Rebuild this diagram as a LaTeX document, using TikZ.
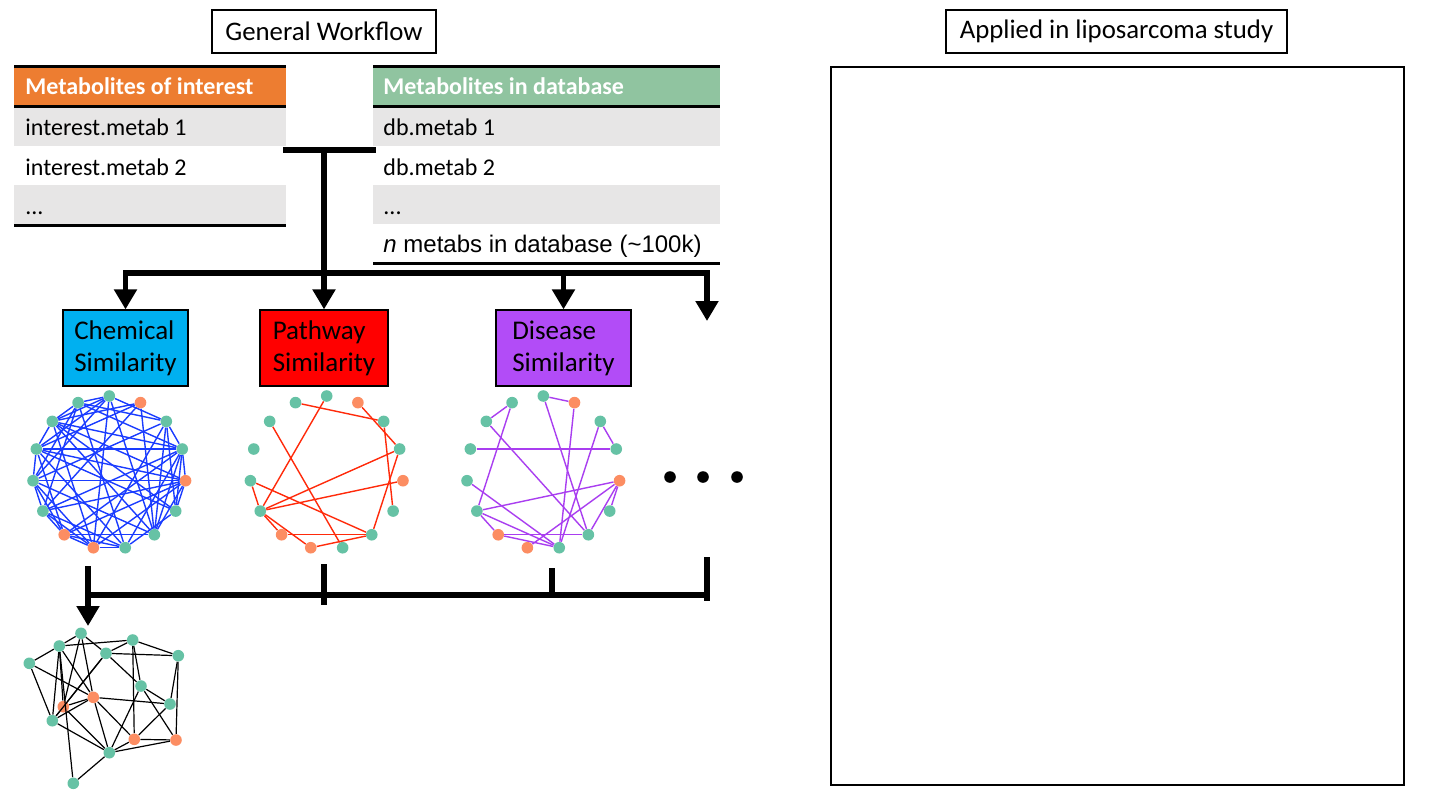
\documentclass[tikz,border=0pt]{standalone}
\usepackage{fontspec}
\setmainfont{Carlito}
\newfontfamily\arialf{Liberation Sans}
\usetikzlibrary{arrows.meta,calc}
\definecolor{hdrorange}{HTML}{ED7D31}
\definecolor{hdrgreen}{HTML}{90C4A0}
\definecolor{rowgray}{HTML}{E7E6E6}
\definecolor{chemcyan}{HTML}{00B0F0}
\definecolor{pathred}{HTML}{FF0000}
\definecolor{dispurple}{HTML}{B24CF7}
\definecolor{netg}{HTML}{66C2A5}
\definecolor{neto}{HTML}{FC8D62}
\definecolor{edgeblue}{HTML}{1A3CFF}
\definecolor{edgered}{HTML}{FF2A0A}
\definecolor{edgepurple}{HTML}{A93EF0}
\tikzset{
  titlebox/.style={draw, line width=0.6pt, inner sep=0pt, minimum height=21.5pt, font=\fontsize{13.4}{16}\selectfont},
  simbox/.style={draw, line width=0.6pt, inner sep=0pt, minimum height=38pt, align=left, font=\fontsize{13.5}{16}\selectfont},
  celltext/.style={anchor=base west, inner sep=0pt},
  tablerule/.style={line width=1.5pt},
  bar/.style={line width=2.8pt, line cap=rect},
  flow/.style={line width=2.8pt, -{Triangle[width=11pt,length=10pt]}},
  netnode/.style={circle, inner sep=0pt, minimum size=5.8pt, draw=none},
  blueedge/.style={edgeblue, line width=0.7pt},
  rededge/.style={edgered, line width=0.7pt},
  purpleedge/.style={edgepurple, line width=0.7pt},
  blackedge/.style={black, line width=0.6pt},
  bignode/.style={circle, inner sep=0pt, minimum size=5.8pt, draw=none},
  dotnode/.style={circle, fill=black, inner sep=0pt, minimum size=5.8pt}
}
\newcommand\mkNetNodes[3]{%
  \foreach \k/\col in {0/netg,1/netg,2/netg,3/netg,4/netg,5/netg,6/neto,7/neto,8/netg,9/netg,10/netg,11/neto,12/netg,13/netg,14/neto}{%
    \pgfmathsetmacro\px{#2+76.7*cos(90+24*\k)}%
    \pgfmathsetmacro\py{#3-76.7*sin(90+24*\k)}%
    \node[netnode,fill=\col] (#1\k) at (\px,\py) {};
  }}
\begin{document}
\begin{tikzpicture}[x=0.5pt,y=-0.5pt, font=\fontsize{12}{14}\selectfont]
\useasboundingbox[fill=white] (0,0) rectangle (1440,810);

% titles
\node[titlebox, minimum width=112pt] (gw) at (324,31.5) {General Workflow};
\node[titlebox, minimum width=170.5pt] (ap) at (1116.5,31.5) {Applied in liposarcoma study};
\node[draw, line width=0.8pt, minimum width=286.5pt, minimum height=359pt, inner sep=0pt] (study) at (1117.5,426) {};

% left table
\fill[hdrorange] (14,67) rectangle (286,105);
\fill[rowgray] (14,107) rectangle (286,146);
\fill[rowgray] (14,185) rectangle (286,224);
\draw[tablerule] (14,66) -- (286,66);
\draw[tablerule] (14,106) -- (286,106);
\draw[tablerule] (14,225) -- (286,225);
\node[celltext, text=white, font=\fontsize{12}{14}\selectfont\bfseries] (lh) at (25,94.3) {Metabolites of interest};
\node[celltext] (l1) at (25,135) {interest.metab 1};
\node[celltext] (l2) at (25,175) {interest.metab 2};
\node[celltext] (l3) at (25,214) {...};

% right table
\fill[hdrgreen] (373,67) rectangle (720,105);
\fill[rowgray] (373,107) rectangle (720,146);
\fill[rowgray] (373,185) rectangle (720,224);
\draw[tablerule] (373,66) -- (720,66);
\draw[tablerule] (373,106) -- (720,106);
\draw[tablerule] (373,263) -- (720,263);
\node[celltext, text=white, font=\fontsize{12}{14}\selectfont\bfseries] (rh) at (383,94.3) {Metabolites in database};
\node[celltext] (r1) at (383,135) {db.metab 1};
\node[celltext] (r2) at (383,175) {db.metab 2};
\node[celltext] (r3) at (383,214) {...};
\node[celltext] (r4) at (383,252.7) {\arialf{\itshape n} metabs in database (\textasciitilde 100k)};

% similarity boxes
\node[simbox, fill=chemcyan, minimum width=62.5pt] (chem) at (125.5,348) {Chemical\\Similarity};
\node[simbox, fill=pathred, minimum width=64pt] (path) at (324,348) {Pathway\\Similarity};
\node[simbox, fill=dispurple, minimum width=67.5pt] (dis) at (563.5,348) {Disease\\Similarity};

% top connectors
\coordinate (tL) at (286,150);
\coordinate (tR) at (373,150);
\coordinate (tJ) at (324,150);
\coordinate (bus) at (324,273);
\coordinate (busR) at (707,273);
\coordinate (moreTip) at (707,321);
\draw[bar] (tL) -- (tR);
\draw[bar] (tJ) -- (bus);
\draw[bar] (chem.north |- bus) -- (busR);
\draw[flow] (chem.north |- bus) -- (chem.north);
\draw[flow] (bus) -- (path.north);
\draw[flow] (dis.north |- bus) -- (dis.north);
\draw[flow] (busR) -- (moreTip);

% networks
\mkNetNodes{cn}{109.3}{472.7}
\mkNetNodes{pn}{326.7}{472.7}
\mkNetNodes{dn}{543.3}{472.7}

\foreach \a/\b in {0/2,0/3,0/4,0/9,0/13,0/7,1/4,1/5,1/8,1/13,1/12,14/2,14/3,14/5,14/9,
  2/11,2/10,2/12,2/7,2/9,3/12,3/11,3/6,3/8,3/10,4/11,4/5,4/9,4/13,4/6,4/7,
  5/12,5/6,5/8,5/11,5/7,6/7,6/8,6/12,6/11,6/9,7/8,7/13,7/11,8/12,8/10,
  9/11,9/12,9/13,10/12,10/11,11/12,12/13,13/10,0/1,1/2,2/3,3/4}
  \draw[blueedge] (cn\a) -- (cn\b);

\foreach \a/\b in {1/13,14/12,13/10,0/5,2/8,12/5,11/5,12/9,4/5,4/9,5/6,5/7,6/9,7/9}
  \draw[rededge] (pn\a) -- (pn\b);

\foreach \a/\b in {0/14,1/2,1/5,2/9,13/12,3/12,0/9,14/8,13/8,11/5,11/7,11/10,11/9,4/8,5/6,5/8,6/9,6/8}
  \draw[purpleedge] (dn\a) -- (dn\b);

% more dots
\node[dotnode] (e1) at (670,477) {};
\node[dotnode] (e2) at (703,477) {};
\node[dotnode] (e3) at (737,477) {};

% bottom connectors
\coordinate (m1) at (88,566);
\coordinate (mTip) at (88,626);
\coordinate (mbL) at (88,595);
\coordinate (mbR) at (707,595);
\coordinate (p1) at (324,567);
\coordinate (p2) at (324,602);
\coordinate (q1) at (552,571);
\coordinate (q2) at (552,595);
\coordinate (s1) at (707,560);
\coordinate (s2) at (707,598);
\draw[bar] (mbL) -- (mbR);
\draw[bar, line width=3.4pt] (p1) -- (p2);
\draw[bar] (q1) -- (q2);
\draw[bar] (s1) -- (s2);
\draw[flow] (m1) -- (mTip);

% merged network
\foreach \n/\x/\y/\col in {a/81/633.3/netg, b/59.3/646/netg, c/132.7/640/netg, d/106/653.3/netg,
  e/178.3/655.7/netg, f/29.3/663.3/netg, g/141/686/netg, h/93.3/697.3/neto, i/63.3/706.7/neto,
  j/170/704/netg, k/52.3/720.7/netg, l/134.3/739.3/neto, m/176/740/neto, n/109.3/752.7/netg, o/73.3/783.3/netg}
  \node[bignode, fill=\col] (mn\n) at (\x,\y) {};

\foreach \a/\b in {a/b,a/d,a/i,a/h,b/c,b/f,b/i,b/k,b/h,b/o,c/d,c/e,c/l,c/g,d/e,d/i,d/g,
  f/h,f/k,e/j,e/m,g/j,g/n,g/m,h/i,h/j,h/n,h/l,h/k,i/k,i/n,k/n,j/l,l/m,l/n,m/n,n/o,k/d}
  \draw[blackedge] (mn\a) -- (mn\b);
\end{tikzpicture}
\end{document}
